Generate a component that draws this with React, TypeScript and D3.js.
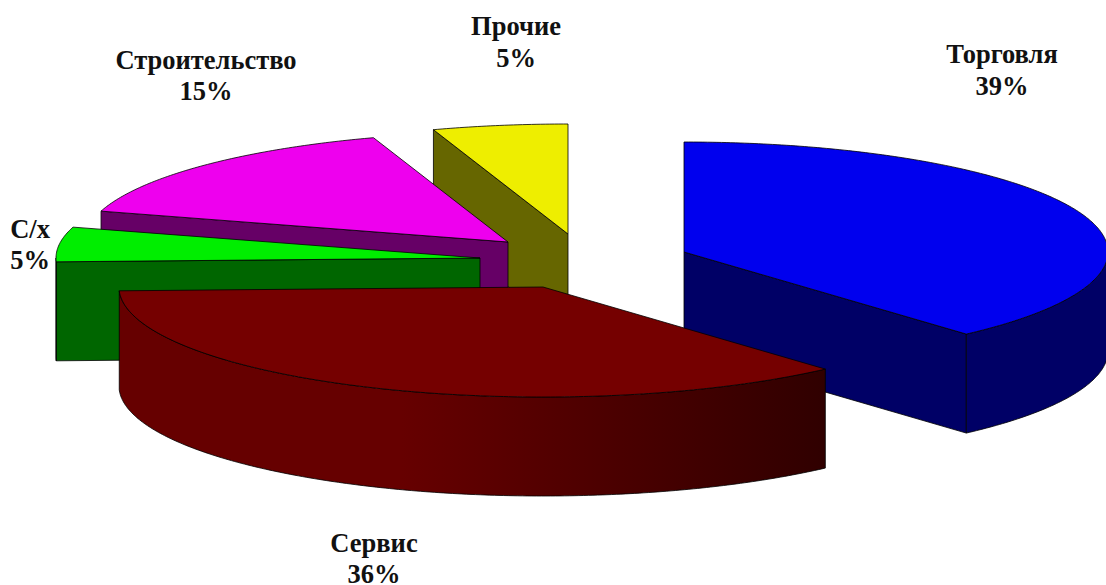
import React from "react";
import * as d3 from "d3";

const categories = ["Торговля", "Сервис", "С/х", "Строительство", "Прочие"];
const shares = [38.4, 36.04, 5.08, 15.33, 5.14];
const percentLabels = ["39%", "36%", "5%", "15%", "5%"];
const topColors = ["#0000ee", "#750000", "#00ee00", "#ee00ee", "#eeee00"];
const sideColors = ["#000066", "#660000", "#006600", "#660066", "#666600"];

// layout only
const W = 1106, H = 585, RX = 424, RY = 110, DEPTH = 99;
const apexes: [number, number][] = [[684, 252], [543, 287], [480, 258], [508, 242], [568, 234]];
const labelPos: [number, number, number][] = [
  [1002, 63, 95], [374, 552, 583], [30, 238, 269], [206, 69, 100], [516, 35, 67],
];
const drawOrder = [0, 4, 3, 2, 1];

const pieGen = d3.pie<number>().sort(null).value((d) => d);
const arcs = pieGen(shares);
const lineGen = d3.line<[number, number]>().x((d) => d[0]).y((d) => d[1]);

function rim(i: number, a0: number, a1: number, dy = 0): [number, number][] {
  const [cx, cy] = apexes[i];
  const n = Math.max(2, Math.ceil(Math.abs(a1 - a0) * 90));
  return d3.range(n + 1).map((k) => {
    const t = a0 + ((a1 - a0) * k) / n;
    return [cx + RX * Math.sin(t), cy - RY * Math.cos(t) + dy] as [number, number];
  });
}

function topPath(i: number) {
  const a = arcs[i];
  return lineGen([apexes[i], ...rim(i, a.startAngle, a.endAngle)]) + "Z";
}

// radial wall along the slice's start edge (visible on the left half) or end edge (right half)
function wallPath(i: number) {
  const a = arcs[i];
  const edge = a.startAngle > Math.PI ? a.startAngle : a.endAngle;
  const [p] = rim(i, edge, edge);
  const [cx, cy] = apexes[i];
  return lineGen([[cx, cy], p, [p[0], p[1] + DEPTH], [cx, cy + DEPTH]]) + "Z";
}

// curved outer wall: only the part of the rim that faces the viewer
function outerPath(i: number) {
  const a = arcs[i];
  const a0 = Math.max(a.startAngle, Math.PI / 2);
  const a1 = Math.min(a.endAngle, (3 * Math.PI) / 2);
  if (a1 <= a0) return null;
  return lineGen([...rim(i, a0, a1), ...rim(i, a1, a0, DEPTH)]) + "Z";
}

const edgeStroke = { stroke: "#000", strokeWidth: 0.8, strokeLinejoin: "round" as const };

export default function App() {
  return (
    <svg width={W} height={H} viewBox={`0 0 ${W} ${H}`}
      style={{ position: "absolute", left: 0, top: 0, background: "#fff" }}>
      <defs>
        <linearGradient id="serviceSide" gradientUnits="userSpaceOnUse" x1={120} x2={825} y1={0} y2={0}>
          <stop offset="0" stopColor="#660000" />
          <stop offset="0.4" stopColor="#660000" />
          <stop offset="1" stopColor="#300000" />
        </linearGradient>
      </defs>
      {drawOrder.map((i) => {
        const side = i === 1 ? "url(#serviceSide)" : sideColors[i];
        const outer = outerPath(i);
        return (
          <g key={categories[i]}>
            {i !== 1 && <path d={wallPath(i)} fill={side} {...edgeStroke} />}
            {outer && <path d={outer} fill={side} {...edgeStroke} />}
            <path d={topPath(i)} fill={topColors[i]} {...edgeStroke} />
          </g>
        );
      })}
      <g fontFamily="'Liberation Serif', serif" fontWeight="bold" fontSize={26.5} textAnchor="middle" fill="#111">
        {categories.map((c, i) => (
          <g key={c}>
            <text x={labelPos[i][0]} y={labelPos[i][1]}>{c}</text>
            <text x={labelPos[i][0]} y={labelPos[i][2]}>{percentLabels[i]}</text>
          </g>
        ))}
      </g>
    </svg>
  );
}
